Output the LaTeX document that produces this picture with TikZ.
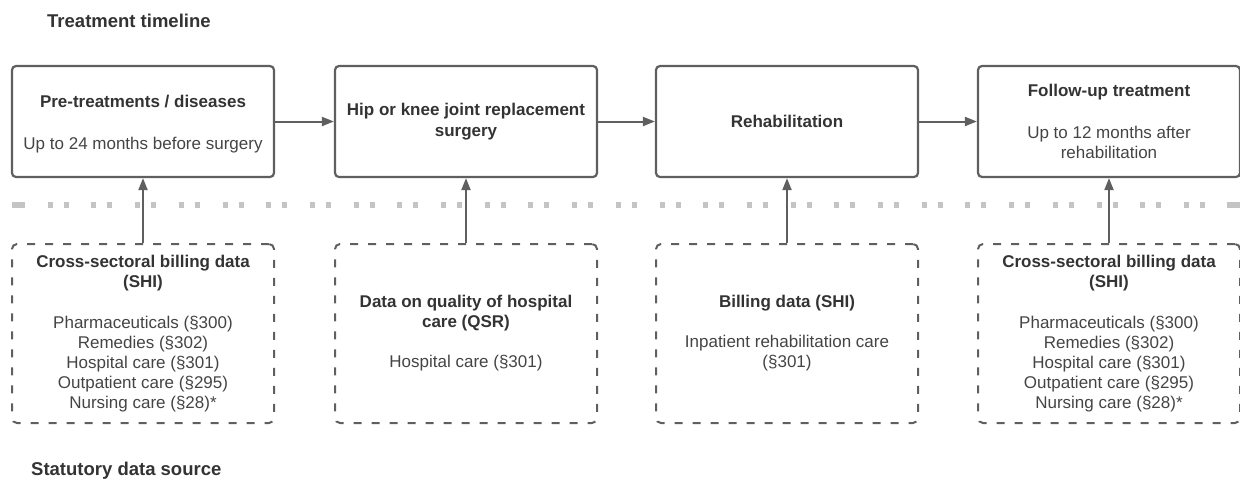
\documentclass[tikz,border=0pt]{standalone}
\usepackage{fontspec}
\setmainfont{Liberation Sans}
\usetikzlibrary{arrows.meta}
\definecolor{edge}{HTML}{5F5F5F}
\definecolor{ink}{HTML}{333333}
\definecolor{soft}{HTML}{444444}
\definecolor{divider}{HTML}{C4C4C4}
\newcommand\boxhead[1]{{\bfseries\color{ink}#1}}

\begin{document}
\begin{tikzpicture}[x=1pt,y=-1pt,
  boxfont/.style={font=\fontsize{17}{20}\selectfont, text=soft},
  stage/.style={boxfont, draw=edge, line width=2.2pt, rounded corners=4pt,
    minimum width=262pt, minimum height=111pt, align=center, inner sep=0pt},
  source/.style={boxfont, draw=edge, line width=2pt, dash pattern=on 8pt off 10pt,
    rounded corners=5pt, minimum width=262pt, minimum height=179pt,
    align=center, inner sep=0pt},
  flow/.style={draw=edge, line width=2pt, -{Triangle[length=12pt,width=9pt]}},
  heading/.style={font=\bfseries\fontsize{18.5}{22}\selectfont, text=ink,
    anchor=base west, inner sep=0pt},
  rule/.style={draw=divider, line width=6pt}
]
\useasboundingbox (0,0) rectangle (1240,480);

% section headings
\node[heading] (tl) at (47,27.6) {Treatment timeline};
\node[heading] (sd) at (31,475) {Statutory data source};

% dotted divider between timeline and data sources
\draw[rule] (12,205) -- (25,205);
\draw[rule, dash pattern=on 5pt off 11pt on 5pt off 22.7pt] (47.7,205) -- (1205,205);
\draw[rule] (1227,205) -- (1240,205);

% treatment stages
\node[stage] (pre) at (143,121.5)
  {\rule{0pt}{18pt}\boxhead{Pre-treatments / diseases}\\[22pt] Up to 24 months before surgery};
\node[stage] (surg) at (466,121.5)
  {\boxhead{Hip or knee joint replacement}\\[1pt] \boxhead{surgery}};
\node[stage] (rehab) at (787,121.5) {\boxhead{Rehabilitation}};
\node[stage] (follow) at (1109,121.5)
  {\boxhead{Follow-up treatment}\\[22pt] Up to 12 months after\\ rehabilitation};

% data sources
\node[source] (srcA) at (143,333.5)
  {\boxhead{Cross-sectoral billing data}\\ \boxhead{(SHI)}\\[21pt]
   Pharmaceuticals (§300)\\ Remedies (§302)\\ Hospital care (§301)\\
   Outpatient care (§295)\\ Nursing care (§28)*};
\node[source] (srcB) at (466,333.5)
  {\boxhead{Data on quality of hospital}\\ \boxhead{care (QSR)}\\[20pt]
   Hospital care (§301)};
\node[source] (srcC) at (787,333.5)
  {\boxhead{Billing data (SHI)}\\[20pt] Inpatient rehabilitation care\\ (§301)};
\node[source] (srcD) at (1109,333.5)
  {\boxhead{Cross-sectoral billing data}\\ \boxhead{(SHI)}\\[21pt]
   Pharmaceuticals (§300)\\ Remedies (§302)\\ Hospital care (§301)\\
   Outpatient care (§295)\\ Nursing care (§28)*};

% timeline flow
\draw[flow] (pre.east) -- (surg.west);
\draw[flow] (surg.east) -- (rehab.west);
\draw[flow] (rehab.east) -- (follow.west);

% sources feeding the stages
\draw[flow] (srcA.north) -- (pre.south);
\draw[flow] (srcB.north) -- (surg.south);
\draw[flow] (srcC.north) -- (rehab.south);
\draw[flow] (srcD.north) -- (follow.south);
\end{tikzpicture}
\end{document}
